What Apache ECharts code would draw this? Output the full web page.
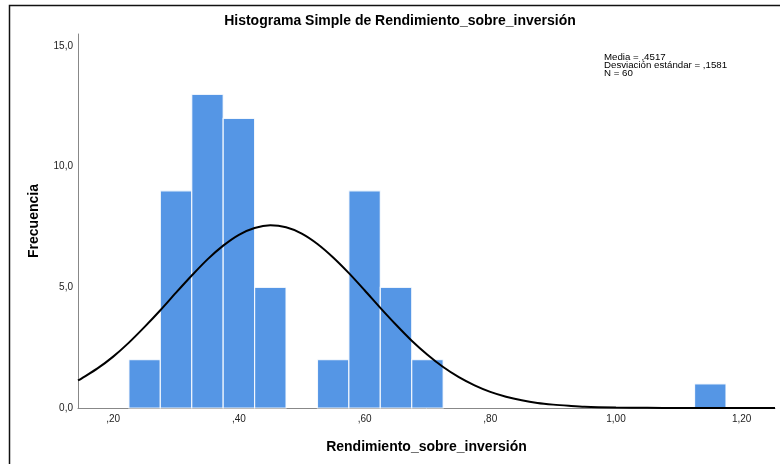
<!DOCTYPE html>
<html>
<head>
<meta charset="utf-8">
<script src="https://cdn.jsdelivr.net/npm/echarts@6/dist/echarts.min.js"></script>
<style>html,body{margin:0;padding:0;background:#fff;}#c{width:780px;height:464px;}</style>
</head>
<body>
<div id="c"></div>
<script>
// Histogram bins (center of each 0.05-wide bin) and counts
var binCenters = [0.25, 0.30, 0.35, 0.40, 0.45, 0.55, 0.60, 0.65, 0.70, 1.15];
var binCounts  = [2, 9, 13, 12, 5, 2, 9, 5, 2, 1];
var binWidth = 0.05;
// Normal curve points (x, frequency)
var curveX = [0.144,0.15,0.175,0.2,0.225,0.25,0.275,0.3,0.325,0.35,0.375,0.4,0.425,0.45,0.475,0.5,0.525,0.55,0.575,0.6,0.625,0.65,0.675,0.7,0.725,0.75,0.775,0.8,0.825,0.85,0.875,0.9,0.925,0.95,1.0,1.05,1.1,1.15,1.2,1.253];
var curveY = [1.14,1.23,1.64,2.13,2.71,3.36,4.05,4.78,5.49,6.16,6.73,7.18,7.46,7.57,7.49,7.23,6.80,6.24,5.59,4.88,4.15,3.45,2.79,2.21,1.70,1.28,0.94,0.67,0.47,0.32,0.21,0.14,0.09,0.05,0.02,0.01,0,0,0,0];
var xTicks = [0.2, 0.4, 0.6, 0.8, 1.0, 1.2];
var yTicks = [0, 5, 10, 15];
var statsText = ['Media = ,4517', 'Desviación estándar = ,1581', 'N = 60'];

var barData = binCenters.map(function (c, i) { return [c, binCounts[i]]; });
var lineData = curveX.map(function (x, i) { return [x, curveY[i]]; });
var FONT = '"Liberation Sans", Arial, sans-serif';

var chart = echarts.init(document.getElementById('c'), null, {renderer: 'canvas'});
chart.setOption({
  animation: false,
  backgroundColor: '#fff',
  grid: {left: 78, right: 5, top: 34, bottom: 56},
  xAxis: {
    type: 'value', min: 0.144, max: 1.253,
    name: 'Rendimiento_sobre_inversión', nameLocation: 'middle', nameGap: 32,
    nameTextStyle: {fontFamily: FONT, fontWeight: 'bold', fontSize: 14, color: '#000'},
    axisLine: {show: true, lineStyle: {color: '#888', width: 1}},
    axisTick: {show: false},
    splitLine: {show: false},
    axisLabel: {
      customValues: xTicks, margin: 6, fontFamily: FONT, fontSize: 10, color: '#222',
      formatter: function (v) { var s = v.toFixed(2).replace('.', ','); return s.indexOf('0,') === 0 ? s.slice(1) : s; }
    }
  },
  yAxis: {
    type: 'value', min: 0, max: 15.5,
    name: 'Frecuencia', nameLocation: 'middle', nameGap: 37, nameRotate: 90,
    nameTextStyle: {fontFamily: FONT, fontWeight: 'bold', fontSize: 14, color: '#000'},
    axisLine: {show: true, lineStyle: {color: '#888', width: 1}},
    axisTick: {show: false},
    splitLine: {show: false},
    axisLabel: {
      customValues: yTicks, margin: 5, fontFamily: FONT, fontSize: 10, color: '#222',
      formatter: function (v) { return v.toFixed(1).replace('.', ','); }
    }
  },
  graphic: [
    {type: 'rect', z: 100, silent: true, shape: {x: 9.5, y: 5.5, width: 800, height: 500},
     style: {fill: 'none', stroke: '#111', lineWidth: 1.5}},
    {type: 'text', z: 100, style: {text: 'Histograma Simple de Rendimiento_sobre_inversión', x: 400, y: 21,
      textAlign: 'center', textVerticalAlign: 'middle', font: 'bold 14px ' + FONT, fill: '#000'}},
    {type: 'text', z: 100, style: {text: statsText.join('\n'), x: 604, y: 53, font: '9.7px ' + FONT,
      lineHeight: 8.3, fill: '#000'}}
  ],
  series: [
    {
      type: 'custom', z: 2,
      data: barData,
      renderItem: function (params, api) {
        var c = api.value(0), n = api.value(1);
        var p0 = api.coord([c - binWidth / 2, n]);
        var p1 = api.coord([c + binWidth / 2, 0]);
        return {
          type: 'rect',
          shape: {x: p0[0], y: p0[1], width: p1[0] - p0[0], height: p1[1] - p0[1]},
          style: {fill: '#5596e5', stroke: 'rgba(255,255,255,0.85)', lineWidth: 1.2}
        };
      }
    },
    {
      type: 'line', z: 5, data: lineData, smooth: 0.3, showSymbol: false, symbol: 'none',
      lineStyle: {color: '#000', width: 2}
    }
  ]
});
</script>
</body>
</html>
